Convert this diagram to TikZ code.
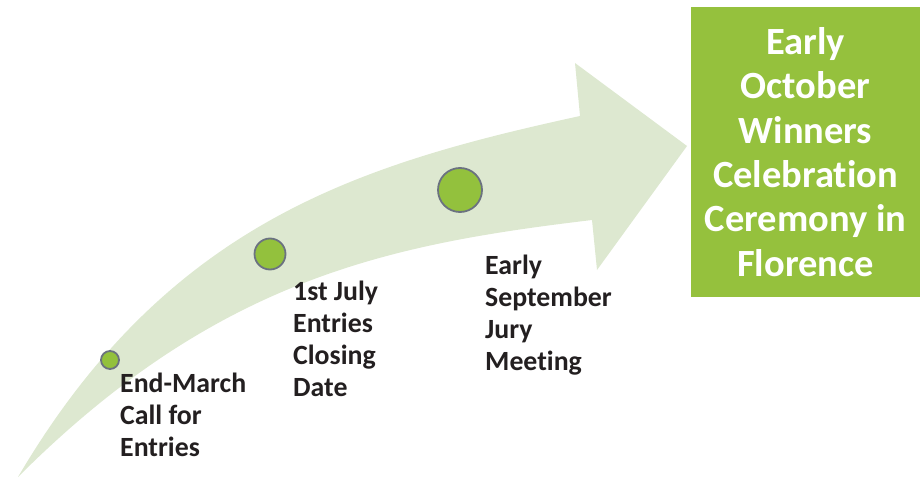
\documentclass[tikz,border=0pt]{standalone}
\usepackage{fontspec}
\setmainfont{Carlito}[Ligatures=NoCommon]
\definecolor{arrowgreen}{HTML}{DDE8D0}
\definecolor{dotgreen}{HTML}{93C13D}
\definecolor{boxgreen}{HTML}{95C13D}
\definecolor{dotline}{HTML}{6B7280}
\definecolor{txt}{HTML}{231F20}
\tikzset{
  dot/.style={circle, draw=dotline, line width=1.8pt, fill=dotgreen, inner sep=0pt},
  lbl/.style={anchor=west, align=left, inner sep=0pt, text=txt, font=\fontsize{27.8}{31.8}\selectfont\bfseries},
  finalbox/.style={fill=boxgreen, inner sep=0pt},
  finaltext/.style={align=center, text=white, inner sep=0pt, font=\fontsize{38.5}{44.4}\selectfont\bfseries}
}
\begin{document}
\begin{tikzpicture}[x=1pt,y=-1pt]
\useasboundingbox (0,0) rectangle (920,478);
% arrow
\fill[arrowgreen] (18,477) .. controls (168,222) and (360,164) .. (580,116)
  -- (575,63) -- (687,146) -- (597,270) -- (592,220)
  .. controls (392,244) and (218,277) .. cycle;
% dots
\node[dot, minimum size=18pt] (d1) at (110,360) {};
\node[dot, minimum size=31pt] (d2) at (270,254) {};
\node[dot, minimum size=44pt] (d3) at (460,190) {};
% labels
\node[lbl] (l1) at (120,415) {End-March\\Call for\\Entries};
\node[lbl] (l2) at (293,339) {1st July\\Entries\\Closing\\Date};
\node[lbl] (l3) at (485,315) {Early\\September\\Jury\\Meeting};
% final box
\fill[boxgreen] (691,7) rectangle (920,297);
\node[finaltext] (fb) at (805.5,152) {Early\\October\\Winners\\Celebration\\Ceremony in\\Florence};
\end{tikzpicture}
\end{document}
